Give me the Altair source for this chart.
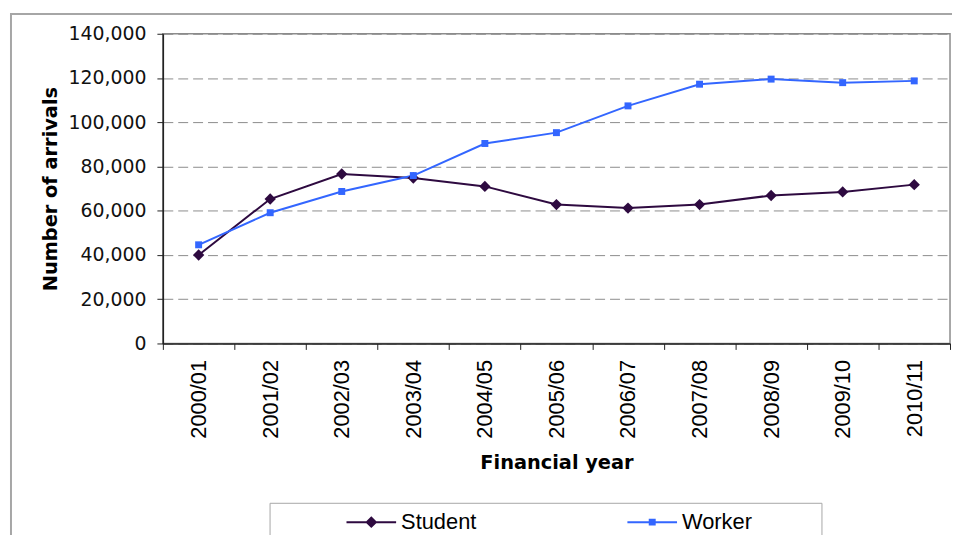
import altair as alt
import pandas as pd

years = ["2000/01", "2001/02", "2002/03", "2003/04", "2004/05", "2005/06",
         "2006/07", "2007/08", "2008/09", "2009/10", "2010/11"]
student = [40000, 65300, 76600, 74800, 71000, 62800, 61200, 62800, 66900, 68500, 71800]
worker = [44600, 59100, 68700, 75900, 90400, 95300, 107400, 117200, 119500, 117900, 118700]
series_names = ["Student", "Worker"]
series_colors = ["#2E0A40", "#3366FF"]
y_ticks = [0, 20000, 40000, 60000, 80000, 100000, 120000, 140000]

rows = []
for name, vals in zip(series_names, [student, worker]):
    for yr, v in zip(years, vals):
        rows.append({"year": yr, "series": name, "value": v})
df = pd.DataFrame(rows)

W, H = 793, 312

# legend symbols: a short line with the series marker in the middle
legend_paths = ["M-1,-0.04H1V0.04H-1ZM0,-0.24L0.24,0L0,0.24L-0.24,0Z",
                "M-1,-0.04H1V0.04H-1ZM-0.14,-0.14H0.14V0.14H-0.14Z"]

legend_props = dict(orient="none", legendX=185, legendY=467,
                    direction="horizontal", title=None,
                    labelFont="Liberation Sans", labelFontSize=22,
                    labelColor="black", symbolSize=2500, symbolOpacity=1,
                    symbolStrokeWidth=0, columnPadding=152,
                    labelOffset=5, padding=0)

x_enc = alt.X("year:N", sort=years,
              scale=alt.Scale(type="band", paddingInner=0, paddingOuter=0),
              axis=alt.Axis(title="Financial year", labelAngle=270, labelAlign="right",
                            labelBaseline="middle", labelFont="Liberation Sans",
                            labelFontSize=22, labelColor="black", labelPadding=10,
                            tickBand="extent", tickSize=6, tickColor="#222",
                            domainColor="#222", domainWidth=1.5, grid=False,
                            titleFont="DejaVu Sans", titleFontSize=19.5,
                            titleFontWeight="bold", titleColor="black", titlePadding=15,
                            zindex=1))
y_enc = alt.Y("value:Q", scale=alt.Scale(domain=[0, 140000], nice=False),
              axis=alt.Axis(title="Number of arrivals", values=y_ticks,
                            labelExpr="replace(format(datum.value, ',.0f'), 'e', '')",
                            labelFont="DejaVu Sans", labelFontSize=19, labelColor="#111",
                            labelPadding=11, tickSize=6, tickColor="#222",
                            domainColor="#222", domainWidth=1.5,
                            grid=True, gridDash=[10, 5], gridColor="#8c8c8c", gridWidth=1,
                            titleFont="DejaVu Sans", titleFontSize=19.5,
                            titleFontWeight="bold", titleColor="black", titlePadding=8,
                            zindex=0))

color_enc = alt.Color("series:N",
                      scale=alt.Scale(domain=series_names, range=series_colors),
                      legend=alt.Legend(**legend_props))
shape_enc = alt.Shape("series:N",
                      scale=alt.Scale(domain=series_names, range=legend_paths),
                      legend=alt.Legend(**legend_props))

frame_df = pd.DataFrame({"a": [0]})
frame = alt.Chart(frame_df).mark_rect(fillOpacity=0, stroke="#a6a6a6", strokeWidth=2).encode(
    x=alt.value(-153), x2=alt.value(820), y=alt.value(-20), y2=alt.value(530))
legend_box = alt.Chart(frame_df).mark_rect(fill="white", stroke="#a6a6a6", strokeWidth=1).encode(
    x=alt.value(108), x2=alt.value(664), y=alt.value(473), y2=alt.value(530))

legend_layer = alt.Chart(df).mark_point(filled=True, opacity=0).encode(
    x=x_enc, y=y_enc, color=color_enc, shape=shape_enc)
lines = alt.Chart(df).mark_line(strokeWidth=2).encode(x=x_enc, y=y_enc, color=color_enc)
pts_student = alt.Chart(df).transform_filter(alt.datum.series == "Student").mark_point(
    filled=True, opacity=1, shape="diamond", size=130).encode(x=x_enc, y=y_enc, color=color_enc)
pts_worker = alt.Chart(df).transform_filter(alt.datum.series == "Worker").mark_point(
    filled=True, opacity=1, shape="square", size=49).encode(x=x_enc, y=y_enc, color=color_enc)

chart = alt.layer(frame, legend_box, legend_layer, lines, pts_student, pts_worker).properties(
    width=W, height=H,
    autosize=alt.AutoSizeParams(type="none"),
    padding={"left": 156, "top": 24, "right": 2, "bottom": 191},
    background="white",
).configure_view(stroke="#8c8c8c", strokeWidth=1.5)

chart.save("out.html", embed_options={"renderer": "svg", "actions": False})
